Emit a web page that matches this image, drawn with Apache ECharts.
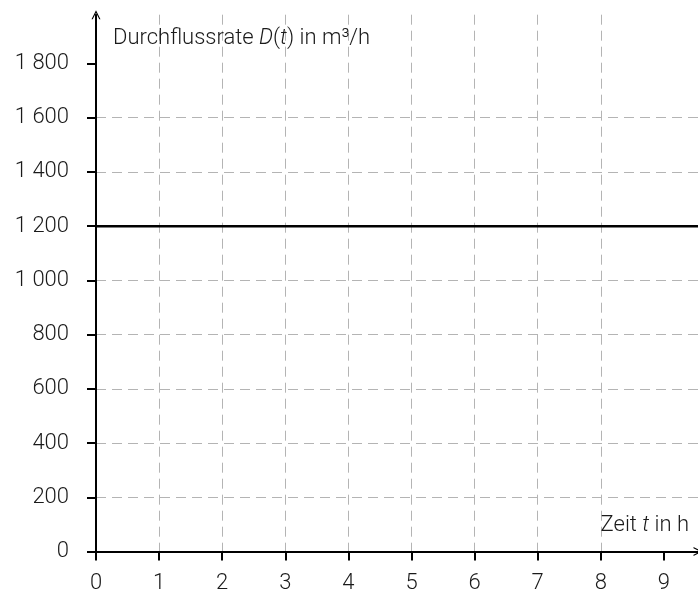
<!DOCTYPE html>
<html>
<head>
<meta charset="utf-8">
<script src="https://cdn.jsdelivr.net/npm/echarts@6/dist/echarts.min.js"></script>
<style>html,body{margin:0;padding:0;background:#fff}#c{width:698px;height:595px}</style>
</head>
<body>
<div id="c"></div>
<script>
const xTicks = [0, 1, 2, 3, 4, 5, 6, 7, 8, 9];
const yTicks = [0, 200, 400, 600, 800, 1000, 1200, 1400, 1600, 1800];
const lineT = [0, 9.54];
const lineD = [1200, 1200];
const xMax = 9.54;
const yMax = 1980;

const FONT = 'Roboto';
const FS = 22;
const chart = echarts.init(document.getElementById('c'));
function fmt(v) {
  if (v >= 1000) {
    const s = String(v);
    return s.slice(0, s.length - 3) + ' ' + s.slice(-3);
  }
  return String(v);
}
const arrow = 'path://M0,10 L5,0 L10,10 L8.6,10 L5,2.8 L1.4,10 Z';
chart.setOption({
  animation: false,
  grid: { left: 96, right: 0, top: 14.7, bottom: 43.5, containLabel: false },
  xAxis: {
    type: 'value', min: 0, max: xMax, interval: 1,
    name: 'Zeit {i|t} in h',
    nameLocation: 'end', nameGap: -9,
    nameTextStyle: {
      fontFamily: FONT, fontSize: FS, fontWeight: 300, color: '#1a1a1a',
      align: 'right', verticalAlign: 'bottom', padding: [0, 0, 15, 0],
      rich: { i: { fontStyle: 'italic', fontFamily: FONT, fontSize: FS, fontWeight: 300, color: '#1a1a1a', verticalAlign: 'bottom' } }
    },
    axisLine: { show: true, onZero: false, lineStyle: { color: '#000', width: 2 }, symbol: ['none', arrow], symbolSize: [10, 9], symbolOffset: [0, 0] },
    axisTick: { show: true, inside: false, length: 9, customValues: xTicks, lineStyle: { color: '#000', width: 2 } },
    axisLabel: { customValues: xTicks, margin: 21, fontFamily: FONT, fontSize: FS, fontWeight: 300, color: '#1a1a1a', formatter: fmt },
    splitLine: { show: true, showMinLine: false, showMaxLine: false, lineStyle: { color: '#b4b4b4', type: [10, 6], width: 1 } }
  },
  yAxis: {
    type: 'value', min: 0, max: yMax, interval: 200,
    name: 'Durchflussrate {i|D}({i|t}) in m³/h',
    nameLocation: 'end', nameGap: -24,
    nameTextStyle: {
      fontFamily: FONT, fontSize: FS, fontWeight: 300, color: '#1a1a1a',
      align: 'left', verticalAlign: 'middle', padding: [0, 0, 0, 17],
      rich: { i: { fontStyle: 'italic', fontFamily: FONT, fontSize: FS, fontWeight: 300, color: '#1a1a1a' } }
    },
    axisLine: { show: true, onZero: false, lineStyle: { color: '#000', width: 2 }, symbol: ['none', arrow], symbolSize: [10, 9], symbolOffset: [0, 0] },
    axisTick: { show: true, inside: false, length: 9, customValues: yTicks, lineStyle: { color: '#000', width: 2 } },
    axisLabel: { customValues: yTicks, margin: 27, fontFamily: FONT, fontSize: FS, fontWeight: 300, color: '#1a1a1a', formatter: fmt },
    splitLine: { show: true, showMinLine: false, showMaxLine: false, lineStyle: { color: '#b4b4b4', type: [10, 6], width: 1 } }
  },
  series: [{
    type: 'line',
    data: lineT.map((t, i) => [t, lineD[i]]),
    symbol: 'none',
    lineStyle: { color: '#000', width: 2.5 },
    z: 5
  }]
});
</script>
</body>
</html>
